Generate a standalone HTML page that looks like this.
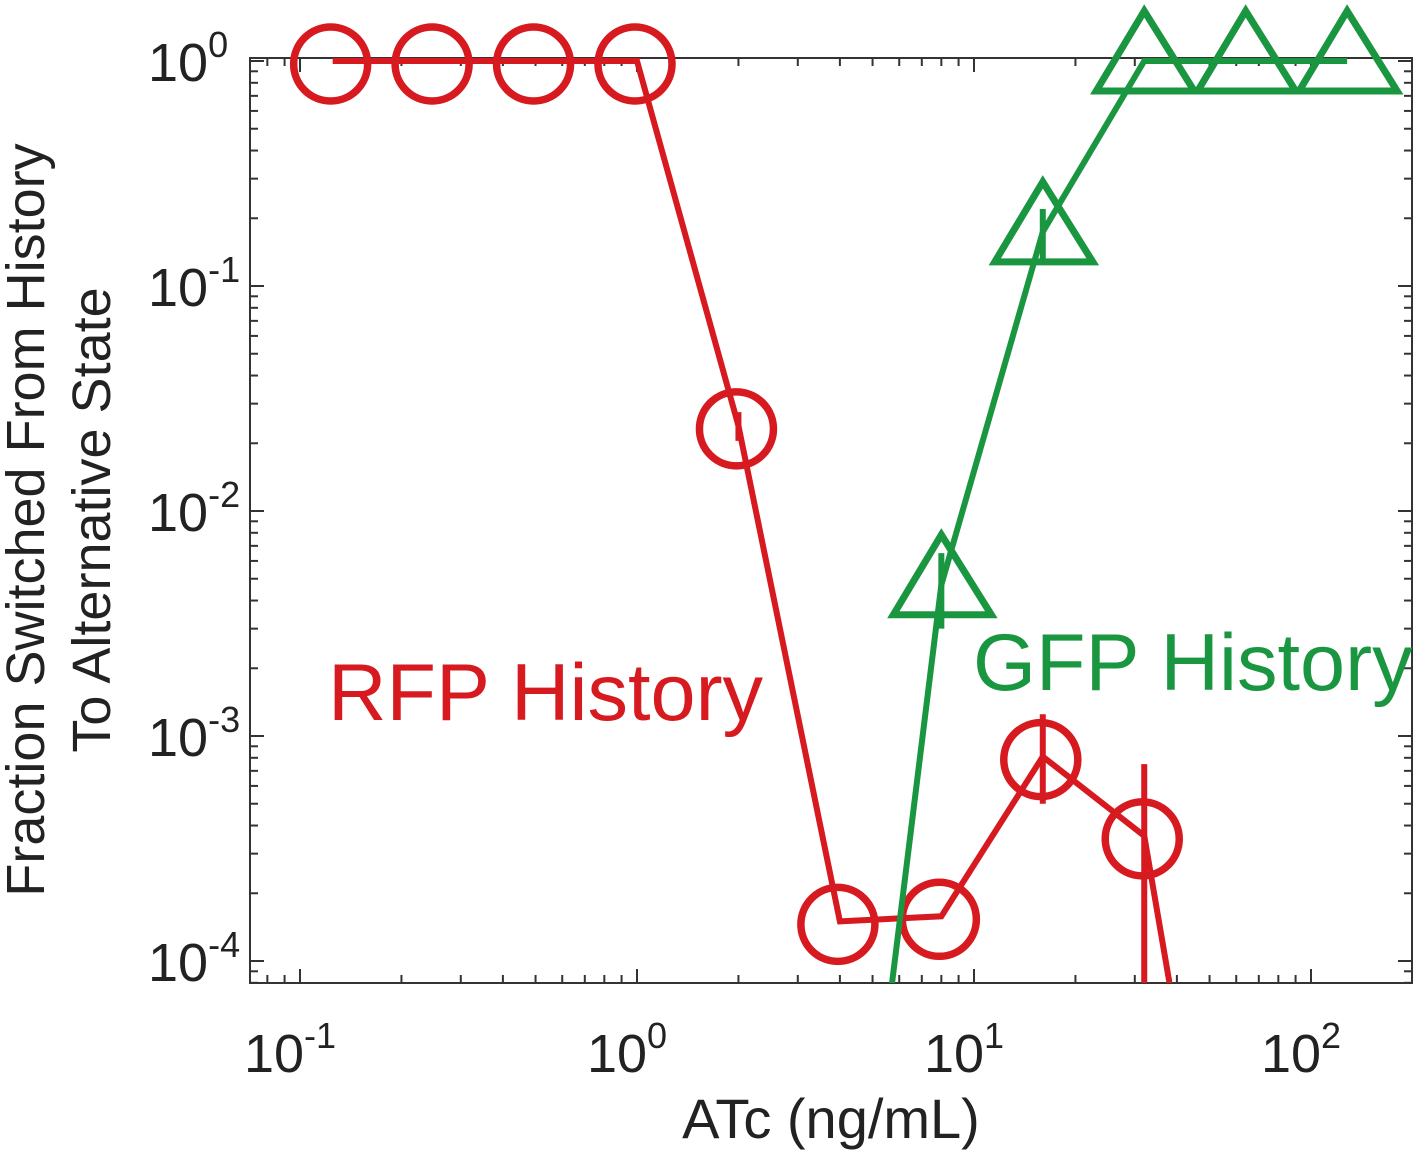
<!DOCTYPE html>
<html><head><meta charset="utf-8"><style>
html,body{margin:0;padding:0;background:#fff;overflow:hidden;width:1417px;height:1151px;}
svg{display:block;font-family:"Liberation Sans",sans-serif;}
</style></head><body>
<svg id="chart" width="1417" height="1151" viewBox="0 0 1417 1151"></svg>
<script>
const rfpX = [0.125,0.25,0.5,1,2,4,8,16,32,64];
const rfpY = [1,1,1,1,0.0239,1.5e-4,1.58e-4,8.1e-4,3.6e-4,8.5e-7];
const rfpErrLo = [null,null,null,null,0.0205,null,null,5.0e-4,1e-5,null];
const rfpErrHi = [null,null,null,null,0.0275,null,null,1.25e-3,7.5e-4,null];
const gfpX = [4,8,16,32,64,128];
const gfpY = [1.07e-6,4.7e-3,0.174,1,1,1];
const gfpErrLo = [null,3.0e-3,0.13,null,null,null];
const gfpErrHi = [null,6.5e-3,0.22,null,null,null];
const xTicks = [0.1,1,10,100];
const xTickLabels = ["10","10","10","10"];
const xTickExp = ["-1","0","1","2"];
const yTicks = [1,0.1,0.01,0.001,0.0001];
const yTickExp = ["0","-1","-2","-3","-4"];

const L=250,R=1412,T=58,B=983;
const X=v=>637+337*Math.log10(v);
const Y=v=>61-225*Math.log10(v);
const NS="http://www.w3.org/2000/svg";
const svg=document.getElementById('chart');
function mk(tag,attrs,parent){const e=document.createElementNS(NS,tag);for(const k in attrs)e.setAttribute(k,attrs[k]);(parent||svg).appendChild(e);return e;}
const RED="#d71920",GREEN="#1a9641";

const defs=mk('defs',{});
const cp=mk('clipPath',{id:'pa'},defs);
mk('rect',{x:L,y:T,width:R-L,height:B-T},cp);

const box=mk('rect',{x:L,y:T,width:R-L,height:B-T,fill:'none',stroke:'#333',"stroke-width":2});



const tg=mk('g',{stroke:'#333',"stroke-width":2});


for(let d=-2;d<=2;d++)for(let m=1;m<10;m++){const v=m*Math.pow(10,d);const x=X(v);if(x<L||x>R)continue;const len=m==1?14:8;
 mk('line',{x1:x,y1:B,x2:x,y2:B-len},tg);mk('line',{x1:x,y1:T,x2:x,y2:T+len},tg);}
for(let d=-5;d<=0;d++)for(let m=1;m<10;m++){const v=m*Math.pow(10,d);const y=Y(v);if(y<T||y>B)continue;const len=m==1?14:8;
 mk('line',{x1:L,y1:y,x2:L+len,y2:y},tg);mk('line',{x1:R,y1:y,x2:R-len,y2:y},tg);}

xTicks.forEach((v,i)=>{const t=mk('text',{x:X(v)-10,y:1072,"font-size":54,"text-anchor":"middle",fill:'#222'});
 
 t.textContent=xTickLabels[i];const s=mk('tspan',{dy:-24,"font-size":36},t);s.textContent=xTickExp[i];});
yTicks.forEach((v,i)=>{const t=mk('text',{x:148,y:Y(v)+20,"font-size":54,fill:'#222'});
 
 t.textContent="10";const s=mk('tspan',{dy:-24,"font-size":36},t);s.textContent=yTickExp[i];});

const xt=mk('text',{x:831,y:1138,"font-size":56,"text-anchor":"middle",fill:'#222'});
xt.textContent="ATc (ng/mL)";
const yt=mk('text',{transform:'translate(44,520) rotate(-90)',"font-size":54,"text-anchor":"middle",fill:'#222'});

const y1=mk('tspan',{x:0,dy:0},yt);y1.textContent="Fraction Switched From History";
const y2=mk('tspan',{x:0,dy:66},yt);y2.textContent="To Alternative State";

function series(xs,ys,lo,hi,color,name,marker){
 const g=mk('g',{"clip-path":'url(#pa)'});
 
 const pts=xs.map((v,i)=>X(v)+','+Y(ys[i])).join(' ');
 const pl=mk('polyline',{points:pts,fill:'none',stroke:color,"stroke-width":6,"stroke-linejoin":'miter'},g);
 
 xs.forEach((v,i)=>{if(lo[i]==null)return;const e=mk('line',{x1:X(v),x2:X(v),y1:Y(lo[i]),y2:Y(hi[i]),stroke:color,"stroke-width":6},g);
  });
 const gm=mk('g',{});
 xs.forEach((v,i)=>{const cx=X(v),cy=Y(ys[i]);let m;
  if(marker=='circle')m=mk('circle',{cx:cx-2,cy:cy+3,r:37,fill:'none',stroke:color,"stroke-width":7.5},gm);
  else m=mk('polygon',{points:`${cx},${cy-50} ${cx+50},${cy+30} ${cx-48},${cy+30}`,fill:'none',stroke:color,"stroke-width":7},gm);
  });
}
series(rfpX,rfpY,rfpErrLo,rfpErrHi,RED,'rfp','circle');
series(gfpX,gfpY,gfpErrLo,gfpErrHi,GREEN,'gfp','triangle');

const lr=mk('text',{x:328,y:720,"font-size":81,fill:RED});
lr.textContent="RFP History";
const lgf=mk('text',{x:973,y:690,"font-size":81,fill:GREEN});
lgf.textContent="GFP History";
</script>
</body></html>
